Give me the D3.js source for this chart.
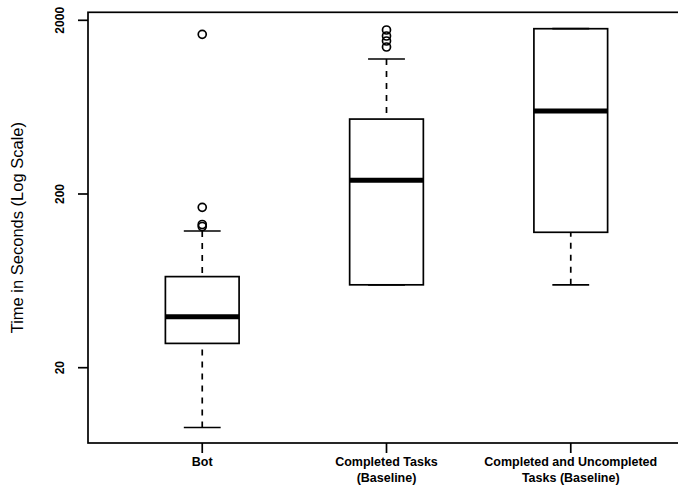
<!DOCTYPE html>
<html>
<head>
<meta charset="utf-8">
<script src="https://cdn.jsdelivr.net/npm/d3@7"></script>
<style>
  html, body { margin: 0; padding: 0; background: #fff; }
  svg { display: block; font-family: "Liberation Sans", Arial, Helvetica, sans-serif; }
</style>
</head>
<body>
<svg id="chart" width="678" height="487"></svg>
<script>
// ---- data ----
const categories = ["Bot", "Completed Tasks\n(Baseline)", "Completed and Uncompleted\nTasks (Baseline)"];
// [lower whisker, Q1, median, Q3, upper whisker]
const statsBot = [9.05, 27.6, 39.3, 66.9, 122.5];
const statsCompleted = [60, 60, 240, 540, 1197];
const statsAll = [60, 120.4, 601, 1789, 1789];
const outliersBot = [130, 133.5, 167.6, 1661];
const outliersCompleted = [1404, 1520, 1624, 1759];
const outliersAll = [];
const yTicks = [20, 200, 2000];
const yTitle = "Time in Seconds (Log Scale)";

const groups = [
  { name: categories[0], stats: statsBot, out: outliersBot },
  { name: categories[1], stats: statsCompleted, out: outliersCompleted },
  { name: categories[2], stats: statsAll, out: outliersAll }
];

// ---- layout ----
const pLeft = 88, pRight = 685, pTop = 12.3, pBottom = 443;
const svg = d3.select("#chart");
const lw = 1.7;

const x = d3.scaleLinear().domain([0.38, 3.62]).range([pLeft, pRight]);
const y = d3.scaleLog().domain([20, 2000]).range([367.7, 20.3]);

const unit = x(1) - x(0);
const halfBox = 0.2 * unit;
const halfCap = 0.1 * unit;

// frame
svg.append("rect")
  .attr("x", pLeft).attr("y", pTop)
  .attr("width", pRight - pLeft).attr("height", pBottom - pTop)
  .attr("fill", "none").attr("stroke", "#000").attr("stroke-width", lw);

// y axis
const yAxis = svg.append("g");
yTicks.forEach(t => {
  yAxis.append("line")
    .attr("x1", pLeft - 10).attr("x2", pLeft)
    .attr("y1", y(t)).attr("y2", y(t))
    .attr("stroke", "#000").attr("stroke-width", lw);
  yAxis.append("text")
    .attr("transform", `translate(${pLeft - 24},${y(t)}) rotate(-90)`)
    .attr("text-anchor", "middle")
    .attr("font-size", 12).attr("font-weight", "bold")
    .text(t);
});
svg.append("text")
  .attr("transform", `translate(23,${(pTop + pBottom) / 2}) rotate(-90)`)
  .attr("text-anchor", "middle")
  .attr("font-size", 16.5)
  .text(yTitle);

// x axis ticks & labels
groups.forEach((g, i) => {
  const cx = x(i + 1);
  svg.append("line")
    .attr("x1", cx).attr("x2", cx)
    .attr("y1", pBottom).attr("y2", pBottom + 10)
    .attr("stroke", "#000").attr("stroke-width", lw);
  const lines = g.name.split("\n");
  lines.forEach((ln, j) => {
    svg.append("text")
      .attr("x", cx).attr("y", 466 + j * 16)
      .attr("text-anchor", "middle")
      .attr("font-size", 12.5).attr("font-weight", "bold")
      .text(ln);
  });
});

// boxes
groups.forEach((g, i) => {
  const cx = x(i + 1);
  const [lo, q1, med, q3, hi] = g.stats;
  const gg = svg.append("g");
  [[lo, q1], [hi, q3]].forEach(([a, b]) => {
    if (a !== b) {
      gg.append("line")
        .attr("x1", cx).attr("x2", cx)
        .attr("y1", y(a)).attr("y2", y(b))
        .attr("stroke", "#000").attr("stroke-width", lw)
        .attr("stroke-dasharray", "6,6");
    }
    gg.append("line")
      .attr("x1", cx - halfCap).attr("x2", cx + halfCap)
      .attr("y1", y(a)).attr("y2", y(a))
      .attr("stroke", "#000").attr("stroke-width", lw);
  });
  gg.append("rect")
    .attr("x", cx - halfBox).attr("y", y(q3))
    .attr("width", 2 * halfBox).attr("height", y(q1) - y(q3))
    .attr("fill", "none").attr("stroke", "#000").attr("stroke-width", lw);
  gg.append("line")
    .attr("x1", cx - halfBox).attr("x2", cx + halfBox)
    .attr("y1", y(med)).attr("y2", y(med))
    .attr("stroke", "#000").attr("stroke-width", 5);
  g.out.forEach(v => {
    gg.append("circle")
      .attr("cx", cx).attr("cy", y(v)).attr("r", 4)
      .attr("fill", "none").attr("stroke", "#000").attr("stroke-width", lw);
  });
});
</script>
</body>
</html>
